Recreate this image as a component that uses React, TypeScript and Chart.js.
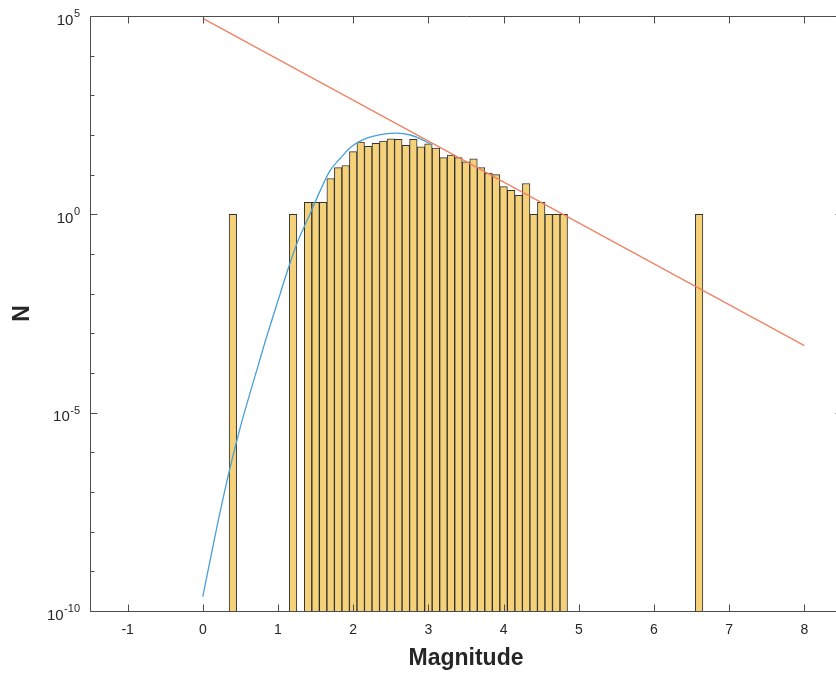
import React, { useEffect, useRef } from 'react';
import { Chart, registerables } from 'chart.js';

Chart.register(...registerables);

// Histogram bins (bin width 0.1), centres and counts
const binCenters = [
  0.4, 1.2,
  1.4, 1.5, 1.6, 1.7, 1.8, 1.9, 2.0, 2.1, 2.2, 2.3, 2.4, 2.5, 2.6, 2.7, 2.8, 2.9,
  3.0, 3.1, 3.2, 3.3, 3.4, 3.5, 3.6, 3.7, 3.8, 3.9, 4.0, 4.1, 4.2, 4.3, 4.4, 4.5,
  4.6, 4.7, 4.8,
  6.6,
];
const binCounts = [
  1, 1,
  2, 2, 2, 8, 15, 17, 38, 66, 52, 62, 70, 80, 78, 55, 78, 50,
  60, 47, 27, 31, 27, 21, 25, 15, 11, 10, 5, 4, 3, 6, 1, 2,
  1, 1, 1,
  1,
];

// Blue fitted curve (below completeness magnitude)
const fitMagnitudes = [0.0, 0.17, 0.34, 0.5, 0.66, 0.82, 0.99, 1.15, 1.25, 1.43, 1.56, 1.69, 1.83, 1.96, 2.18, 2.4, 2.58, 2.76, 2.89, 3.05];
const fitCounts = [2.3e-10, 9.1e-9, 2.7e-7, 4.4e-6, 5.0e-5, 5.4e-4, 5.8e-3, 0.052, 0.18, 1.07, 3.9, 12.5, 26, 48, 83, 105, 112, 100, 81, 56];

// Red Gutenberg-Richter line
const grMagnitudes = [0, 8];
const grCounts = [87000, 0.00049];

const xTickValues = [-1, 0, 1, 2, 3, 4, 5, 6, 7, 8];
const yLabelExponents = [-10, -5, 0, 5];
const yDecadeRange = [-10, 5];

const FONT = "'Liberation Sans', Arial, Helvetica, sans-serif";
const AXIS_COLOR = '#262626';

const axesPlugin = {
  id: 'matlabAxes',
  afterDraw(chart: any) {
    const { ctx, chartArea: a, scales } = chart;
    const xs = scales.x;
    const ys = scales.y;
    ctx.save();
    const L = Math.round(a.left) + 0.5;
    const R = Math.round(a.right) + 0.5;
    const T = Math.round(a.top) + 0.5;
    const B = Math.round(a.bottom) + 0.5;
    ctx.strokeStyle = '#4d4d4d';
    ctx.lineWidth = 1;
    ctx.beginPath();
    ctx.rect(L, T, R - L, B - T);
    ctx.stroke();
    ctx.beginPath();
    xs.ticks.forEach((t: any) => {
      const px = Math.round(xs.getPixelForValue(t.value)) + 0.5;
      ctx.moveTo(px, B);
      ctx.lineTo(px, B - 7);
      ctx.moveTo(px, T);
      ctx.lineTo(px, T + 7);
    });
    ys.ticks.forEach((t: any) => {
      const e = Math.round(Math.log10(t.value));
      const len = yLabelExponents.includes(e) ? 7 : 4;
      const py = Math.round(ys.getPixelForValue(t.value)) + 0.5;
      ctx.moveTo(L, py);
      ctx.lineTo(L + len, py);
      ctx.moveTo(R, py);
      ctx.lineTo(R - len, py);
    });
    ctx.stroke();

    // y tick labels: 10^e with superscript exponent
    ctx.fillStyle = AXIS_COLOR;
    ctx.textBaseline = 'middle';
    ctx.textAlign = 'right';
    const labelRight = a.left - 10;
    ys.ticks.forEach((t: any) => {
      const e = Math.round(Math.log10(t.value));
      if (!yLabelExponents.includes(e)) return;
      const py = ys.getPixelForValue(t.value);
      const expText = String(e);
      ctx.font = `11px ${FONT}`;
      const ew = ctx.measureText(expText).width;
      ctx.fillText(expText, labelRight, py - 2);
      ctx.font = `15px ${FONT}`;
      ctx.fillText('10', labelRight - ew - 0.5, py + 4.5);
    });
    ctx.restore();
  },
};

export default function App() {
  const canvasRef = useRef<HTMLCanvasElement | null>(null);

  useEffect(() => {
    if (!canvasRef.current) return;
    const barData = binCenters.map((m, i) => ({ x: m, y: binCounts[i] }));
    const fitData = fitMagnitudes.map((m, i) => ({ x: m, y: fitCounts[i] }));
    const grData = grMagnitudes.map((m, i) => ({ x: m, y: grCounts[i] }));
    const chart = new Chart(canvasRef.current, {
      type: 'bar',
      data: {
        datasets: [
          {
            type: 'line',
            data: fitData,
            borderColor: '#4a9fd8',
            borderWidth: 1.3,
            pointRadius: 0,
            cubicInterpolationMode: 'monotone',
            fill: false,
            order: 0,
          } as any,
          {
            type: 'line',
            data: grData,
            borderColor: '#ee8062',
            borderWidth: 1.2,
            pointRadius: 0,
            fill: false,
            order: 0,
          } as any,
          {
            type: 'bar',
            data: barData,
            backgroundColor: 'rgb(245,209,122)',
            borderColor: 'rgba(30,30,30,0.9)',
            borderWidth: 1,
            barPercentage: 1,
            categoryPercentage: 1,
            order: 1,
          } as any,
        ],
      },
      options: {
        responsive: false,
        animation: false,
        devicePixelRatio: 1,
        layout: { padding: { left: 0, right: 8, top: 16, bottom: 0 } },
        plugins: { legend: { display: false }, tooltip: { enabled: false } },
        scales: {
          x: {
            type: 'linear',
            min: -1.5,
            max: 8.5,
            offset: false,
            grid: { display: false },
            border: { display: false },
            afterBuildTicks: (scale: any) => {
              scale.ticks = xTickValues.map((v) => ({ value: v }));
            },
            afterFit: (scale: any) => {
              scale.height = 62;
            },
            ticks: {
              padding: 3,
              color: AXIS_COLOR,
              font: { family: FONT, size: 14 },
              maxRotation: 0,
              autoSkip: false,
            },
            title: {
              display: true,
              text: 'Magnitude',
              color: AXIS_COLOR,
              font: { family: FONT, size: 23, weight: 'bold' },
              padding: { top: 0, bottom: 1 },
            },
          },
          y: {
            type: 'logarithmic',
            min: 1e-10,
            max: 1e5,
            grid: { display: false },
            border: { display: false },
            afterBuildTicks: (scale: any) => {
              const ticks: any[] = [];
              for (let e = yDecadeRange[0]; e <= yDecadeRange[1]; e++) ticks.push({ value: Math.pow(10, e) });
              scale.ticks = ticks;
            },
            afterFit: (scale: any) => {
              scale.width = 90;
            },
            ticks: { display: false },
            title: {
              display: true,
              text: 'N',
              color: AXIS_COLOR,
              font: { family: FONT, size: 23, weight: 'bold' },
              padding: { top: 9, bottom: 0 },
            },
          },
        },
      } as any,
      plugins: [axesPlugin],
    });
    return () => chart.destroy();
  }, []);

  return (
    <div style={{ position: 'fixed', left: 0, top: 0, width: 836, height: 673, overflow: 'hidden', background: '#fff' }}>
      <canvas ref={canvasRef} width={850} height={673} style={{ display: 'block' }} />
    </div>
  );
}
